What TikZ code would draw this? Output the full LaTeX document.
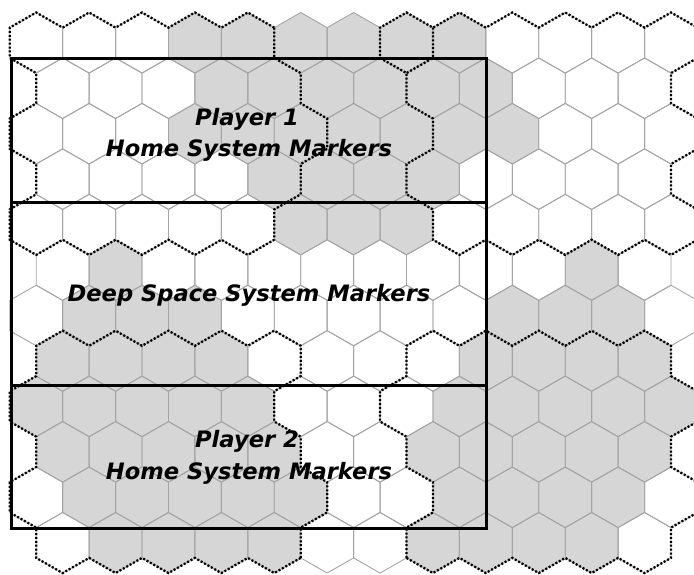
\documentclass[tikz,border=0pt]{standalone}
\usepackage{fontspec}
\newfontfamily\lblfont{DejaVu Sans}
\definecolor{hexgray}{RGB}{214,214,214}
\definecolor{hexline}{RGB}{165,165,165}
\newcommand{\hexcell}[3]{%
  \path[#3] (#1,3*#2) -- (#1+1,3*#2+1) -- (#1+1,3*#2+3) -- (#1,3*#2+4) -- (#1-1,3*#2+3) -- (#1-1,3*#2+1) -- cycle;}
\begin{document}
\begin{tikzpicture}[
  hexedge/.style={draw=hexline, line width=0.9pt, line join=round},
  cut/.style={draw=black, line width=2.3pt, dash pattern=on 2pt off 1.9pt},
  frame/.style={draw=black, line width=3pt},
  lbl/.style={font=\lblfont\bfseries\itshape\fontsize{22.6}{27}\selectfont, anchor=base, inner sep=0pt, text=black},
]
\useasboundingbox (0,0) rectangle (694pt,-574pt);
\begin{scope}
\clip (0,0) rectangle (694pt,-574pt);
\begin{scope}[x={(26.45pt,0)}, y={(0,-15.15pt)}, shift={(9.75pt,-12.5pt)}]
  % gray hexes
  \foreach \r/\gl in {0/{7,9,11,13,15,17}, 1/{8,10,12,14,16,18}, 2/{7,9,11,13,15,17,19},
      3/{10,12,14,16}, 4/{11,13,15}, 5/{4,22}, 6/{3,5,7,19,21,23},
      7/{2,4,6,8,18,20,22,24}, 8/{1,3,5,7,9,17,19,21,23,25},
      9/{2,4,6,8,10,16,18,20,22,24}, 10/{3,5,7,9,11,17,19,21,23},
      11/{4,6,8,10,16,18,20,22}} {
    \foreach \j in \gl { \hexcell{\j}{\r}{fill=hexgray} }
  }
  % outlines
  \foreach \r in {0,2,...,10} { \foreach \j in {1,3,...,25} { \hexcell{\j}{\r}{hexedge} } }
  \foreach \r in {1,3,...,11} { \foreach \j in {2,4,...,24} { \hexcell{\j}{\r}{hexedge} } }
  % dotted cut lines
  \draw[cut] (10,1)--(9,0)--(8,1)--(7,0)--(6,1)--(5,0)--(4,1)--(3,0)--(2,1)--(1,0)--(0,1)
     --(0,3)--(1,4)--(1,6)--(0,7)--(0,9)--(1,10)--(1,12)--(0,13)--(0,15)--(1,16)--(2,15)--(3,16)
     --(4,15)--(5,16)--(6,15)--(7,16)--(8,15)--(9,16)--(10,15);
  \draw[cut] (10,1)--(10,3)--(11,4)--(11,6)--(12,7)--(12,9)--(11,10)--(11,12)--(10,13)--(10,15);
  \draw[cut] (26,15)--(25,16)--(24,15)--(23,16)--(22,15)--(21,16)--(20,15)--(19,16)--(18,15)--(17,16)--(16,15)
     --(16,13)--(15,12)--(15,10)--(16,9)--(16,7)--(15,6)--(15,4)--(14,3)--(14,1)--(15,0)--(16,1)--(17,0)
     --(18,1)--(19,0)--(20,1)--(21,0)--(22,1)--(23,0)--(24,1)--(25,0)--(26,1);
  \draw[cut] (16,1)--(16,3)--(15,4);
  \draw[cut] (26,1)--(26,3)--(25,4)--(25,6)--(26,7)--(26,9)--(25,10)--(25,12)--(26,13)--(26,15);
  \draw[cut] (11,36)--(11,34)--(12,33)--(12,31)--(11,30)--(11,28)--(10,27)--(10,25)--(11,24)--(11,22)
     --(10,21)--(9,22)--(8,21)--(7,22)--(6,21)--(5,22)--(4,21)--(3,22)--(2,21)--(1,22)--(1,24)--(0,25)
     --(0,27)--(1,28)--(1,30)--(0,31)--(0,33)--(1,34)--(1,36)--(2,37)--(3,36)--(4,37)--(5,36)--(6,37)
     --(7,36)--(8,37)--(9,36)--(10,37)--cycle;
  \draw[cut] (15,36)--(15,34)--(16,33)--(16,31)--(15,30)--(15,28)--(14,27)--(14,25)--(15,24)--(15,22)
     --(16,21)--(17,22)--(18,21)--(19,22)--(20,21)--(21,22)--(22,21)--(23,22)--(24,21)--(25,22)--(25,24)
     --(26,25)--(26,27)--(25,28)--(25,30)--(26,31)--(26,33)--(25,34)--(25,36)--(24,37)--(23,36)--(22,37)
     --(21,36)--(20,37)--(19,36)--(18,37)--(17,36)--(16,37)--cycle;
\end{scope}
\end{scope}
% frame
\draw[frame] (11.5pt,-58.6pt) rectangle (486.3pt,-528.3pt);
\draw[frame] (11.5pt,-202.3pt) -- (486.3pt,-202.3pt);
\draw[frame] (11.5pt,-385.7pt) -- (486.3pt,-385.7pt);
% labels
\node[lbl] (p1a) at (247pt,-125pt) {Player 1};
\node[lbl] (p1b) at (249pt,-156.7pt) {Home System Markers};
\node[lbl] (ds) at (249pt,-301.7pt) {Deep Space System Markers};
\node[lbl] (p2a) at (247pt,-447.3pt) {Player 2};
\node[lbl] (p2b) at (249pt,-479pt) {Home System Markers};
\end{tikzpicture}
\end{document}
